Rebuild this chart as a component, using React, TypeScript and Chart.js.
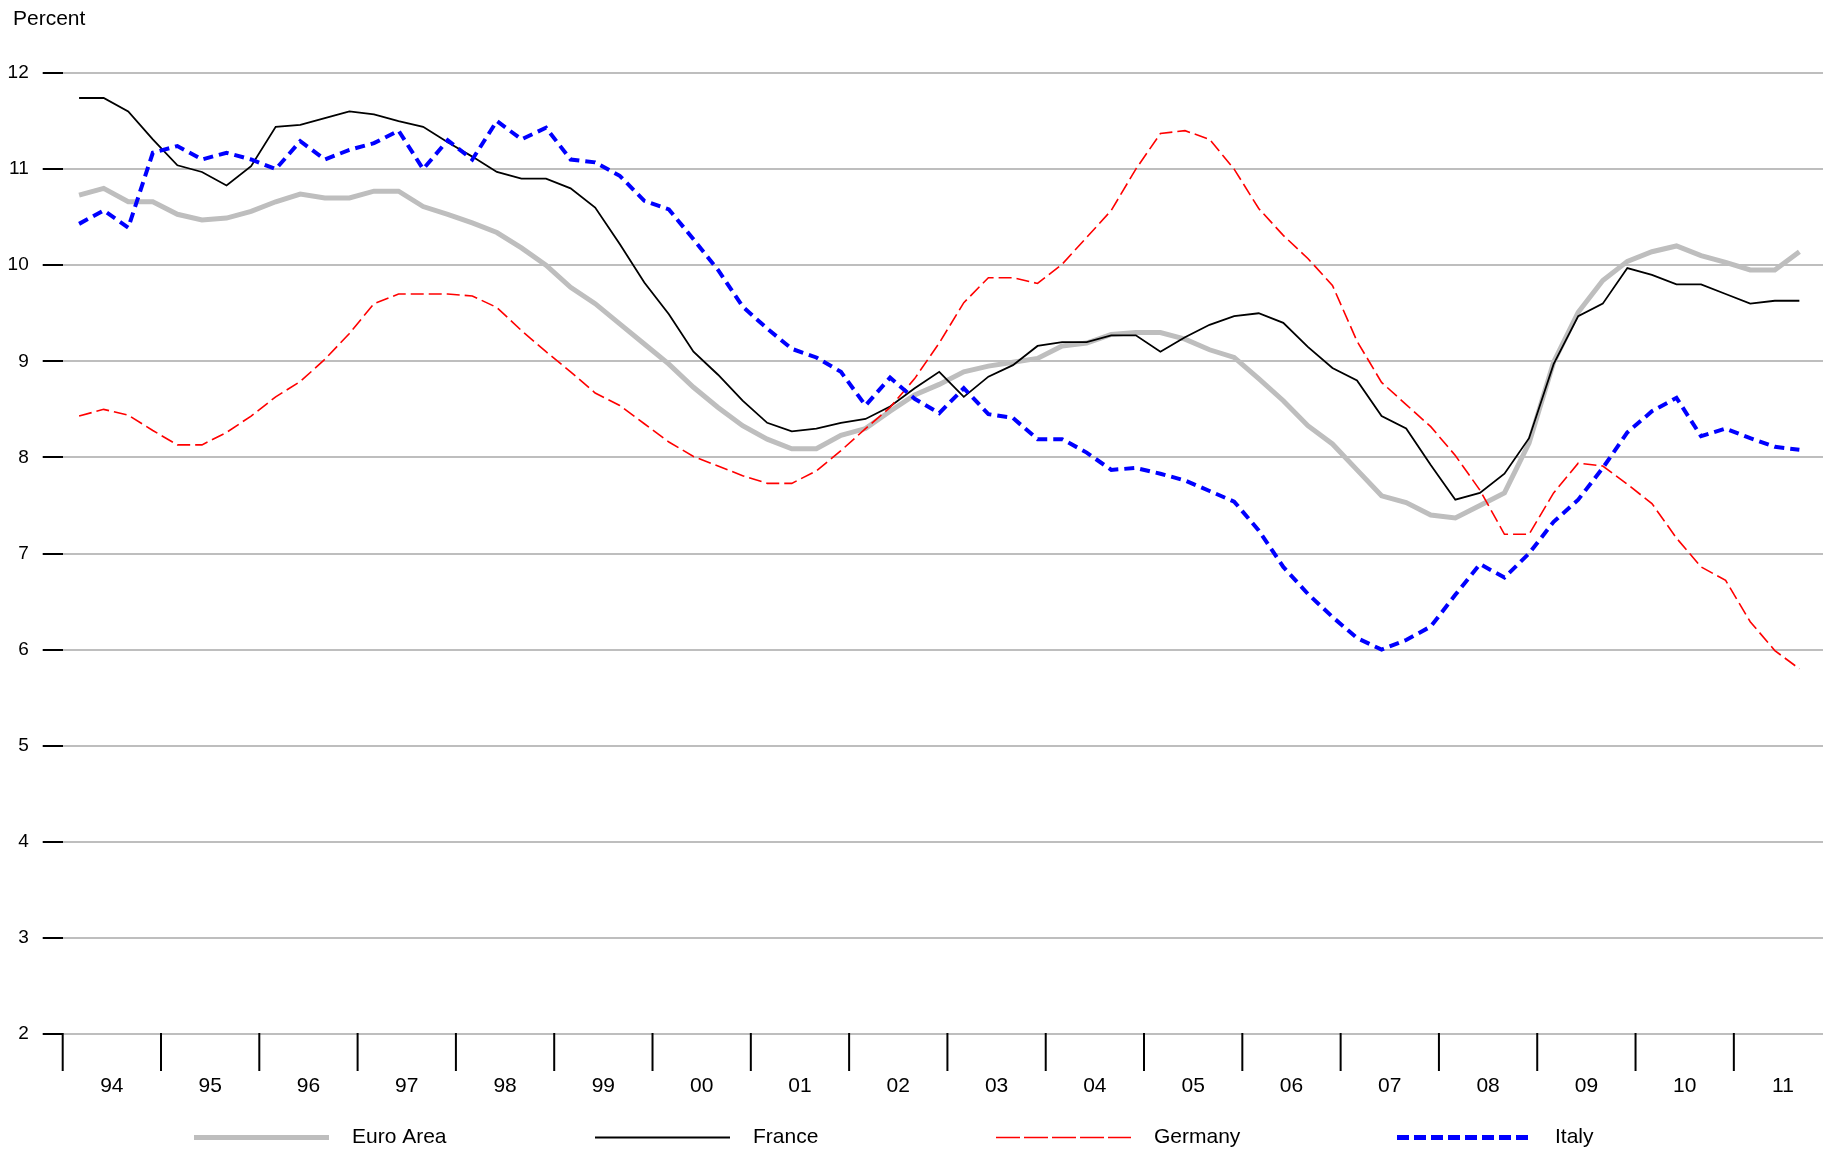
import React, { useEffect, useRef } from 'react';
import { Chart, registerables } from 'chart.js';

Chart.register(...registerables);

// Quarterly observations, 1994Q1 .. 2011Q3
const firstYear = 1994;
const yearLabels = ['94', '95', '96', '97', '98', '99', '00', '01', '02', '03', '04', '05', '06', '07', '08', '09', '10', '11'];

const euroArea = [
  10.73, 10.80, 10.66, 10.66, 10.53, 10.47, 10.49, 10.56, 10.66, 10.74,
  10.70, 10.70, 10.77, 10.77, 10.61, 10.53, 10.44, 10.34, 10.18, 10.00,
  9.77, 9.60, 9.39, 9.18, 8.97, 8.73, 8.52, 8.33, 8.19, 8.09,
  8.09, 8.23, 8.30, 8.48, 8.65, 8.76, 8.89, 8.95, 8.99, 9.03,
  9.16, 9.19, 9.28, 9.30, 9.30, 9.23, 9.12, 9.04, 8.82, 8.59,
  8.33, 8.14, 7.87, 7.60, 7.53, 7.40, 7.37, 7.50, 7.63, 8.15,
  8.99, 9.51, 9.84, 10.04, 10.14, 10.20, 10.10, 10.03, 9.95, 9.95, 10.14,
];

const france = [
  11.74, 11.74, 11.60, 11.31, 11.04, 10.97, 10.83, 11.03, 11.44, 11.46,
  11.53, 11.60, 11.57, 11.50, 11.44, 11.28, 11.13, 10.97, 10.90, 10.90,
  10.80, 10.60, 10.22, 9.82, 9.49, 9.10, 8.86, 8.59, 8.36, 8.27,
  8.30, 8.36, 8.40, 8.53, 8.72, 8.89, 8.63, 8.84, 8.96, 9.16,
  9.20, 9.20, 9.27, 9.27, 9.10, 9.25, 9.38, 9.47, 9.50, 9.40,
  9.15, 8.93, 8.80, 8.43, 8.30, 7.92, 7.56, 7.63, 7.83, 8.20,
  8.97, 9.47, 9.60, 9.97, 9.90, 9.80, 9.80, 9.70, 9.60, 9.63, 9.63,
];

const germany = [
  8.43, 8.50, 8.44, 8.28, 8.13, 8.13, 8.26, 8.43, 8.63, 8.79,
  9.02, 9.29, 9.60, 9.70, 9.70, 9.70, 9.68, 9.56, 9.32, 9.10,
  8.89, 8.67, 8.54, 8.35, 8.16, 8.01, 7.91, 7.81, 7.73, 7.73,
  7.86, 8.07, 8.30, 8.52, 8.82, 9.19, 9.61, 9.87, 9.87, 9.81,
  10.01, 10.29, 10.57, 11.00, 11.37, 11.40, 11.31, 11.00, 10.59, 10.31,
  10.07, 9.79, 9.21, 8.78, 8.55, 8.32, 8.02, 7.66, 7.20, 7.20,
  7.63, 7.94, 7.91, 7.72, 7.52, 7.16, 6.86, 6.72, 6.29, 5.99, 5.80,
];

const italy = [
  10.43, 10.57, 10.39, 11.17, 11.24, 11.10, 11.17, 11.10, 11.00, 11.29,
  11.10, 11.20, 11.27, 11.40, 11.00, 11.30, 11.10, 11.50, 11.31, 11.43,
  11.10, 11.07, 10.93, 10.67, 10.58, 10.27, 9.95, 9.57, 9.34, 9.13,
  9.04, 8.89, 8.54, 8.83, 8.61, 8.46, 8.72, 8.45, 8.41, 8.19,
  8.19, 8.05, 7.87, 7.89, 7.83, 7.76, 7.65, 7.54, 7.24, 6.86,
  6.58, 6.34, 6.12, 6.00, 6.10, 6.24, 6.57, 6.89, 6.75, 7.00,
  7.33, 7.56, 7.89, 8.26, 8.48, 8.62, 8.22, 8.30, 8.20, 8.11, 8.08,
];

const seriesNames = ['Euro Area', 'France', 'Germany', 'Italy'];

// quarter labels "1994Q1" ... one per observation
const quarters: string[] = euroArea.map((_, i) => `${firstYear + Math.floor(i / 4)}Q${(i % 4) + 1}`);

// position of a quarter on the time axis (observation dated two months into the quarter)
const quarterPos = (q: string) => {
  const [y, qq] = q.split('Q');
  return Number(y) + (Number(qq) - 1) / 4 + 1 / 6;
};

const toPoints = (vals: number[]) => vals.map((v, i) => ({ x: quarterPos(quarters[i]), y: v }));

const FONT = '"Liberation Sans", Arial, Helvetica, sans-serif';

const styles = [
  { color: '#bebebe', width: 5, dash: [] as number[], legendDash: [] as number[], order: 4 },
  { color: '#000000', width: 1.8, dash: [] as number[], legendDash: [] as number[], order: 3 },
  { color: '#ff0000', width: 1.6, dash: [13, 5], legendDash: [24, 4], order: 2 },
  { color: '#0000ff', width: 4, dash: [10, 6], legendDash: [12, 5], order: 1 },
];

const overlayPlugin = {
  id: 'overlayPlugin',
  afterDraw(chart: any) {
    const { ctx, chartArea, scales } = chart;
    const xs = scales.x;
    ctx.save();

    // Y-axis title
    ctx.fillStyle = '#000';
    ctx.font = `21px ${FONT}`;
    ctx.textAlign = 'left';
    ctx.textBaseline = 'middle';
    ctx.fillText('Percent', 13, 19);

    // Year boundary ticks and year labels
    ctx.strokeStyle = '#000';
    ctx.lineWidth = 2;
    ctx.setLineDash([]);
    yearLabels.forEach((lab, i) => {
      const yr = firstYear + i;
      const x = xs.getPixelForValue(yr);
      ctx.beginPath();
      ctx.moveTo(x, chartArea.bottom - 1);
      ctx.lineTo(x, chartArea.bottom + 37);
      ctx.stroke();
      const xm = xs.getPixelForValue(yr + 0.5);
      ctx.font = `21px ${FONT}`;
      ctx.textAlign = 'center';
      ctx.textBaseline = 'middle';
      ctx.fillText(lab, xm, chartArea.bottom + 52);
    });

    // Legend in fixed columns
    const legendY = 1137.5;
    const startX = 194;
    const colW = 401;
    const lineLen = 135;
    seriesNames.forEach((name, i) => {
      const st = styles[i];
      const x0 = startX + i * colW;
      ctx.beginPath();
      ctx.strokeStyle = st.color;
      ctx.lineWidth = i === 3 ? 5 : st.width;
      ctx.setLineDash(st.legendDash);
      ctx.moveTo(x0, legendY);
      ctx.lineTo(x0 + lineLen, legendY);
      ctx.stroke();
      ctx.setLineDash([]);
      ctx.fillStyle = '#000';
      ctx.font = `21px ${FONT}`;
      ctx.textAlign = 'left';
      ctx.textBaseline = 'middle';
      ctx.fillText(name, x0 + 158, legendY);
    });

    ctx.restore();
  },
};

export default function App() {
  const canvasRef = useRef<HTMLCanvasElement>(null);

  useEffect(() => {
    const canvas = canvasRef.current;
    if (!canvas) return;
    const allSeries = [euroArea, france, germany, italy];
    const chart = new Chart(canvas, {
      type: 'line',
      data: {
        datasets: allSeries.map((vals, i) => ({
          label: seriesNames[i],
          data: toPoints(vals),
          borderColor: styles[i].color,
          backgroundColor: styles[i].color,
          borderWidth: styles[i].width,
          borderDash: styles[i].dash,
          pointRadius: 0,
          pointHoverRadius: 0,
          fill: false,
          tension: 0,
          order: styles[i].order,
        })),
      },
      options: {
        responsive: false,
        animation: false,
        devicePixelRatio: 1,
        layout: { padding: { top: 73, bottom: 118, left: 0, right: 0 } },
        plugins: {
          legend: { display: false },
          tooltip: { enabled: false },
          title: { display: false },
        },
        scales: {
          x: {
            type: 'linear',
            min: 1994,
            max: 2011.907,
            display: false,
          },
          y: {
            min: 2,
            max: 12,
            ticks: {
              stepSize: 1,
              color: '#000',
              font: { family: FONT, size: 19 },
              padding: 14,
            },
            grid: {
              color: '#bebebe',
              lineWidth: 2,
              tickColor: '#000',
              tickLength: 20,
              tickWidth: 2,
            },
            border: { display: false },
            afterFit: (scale: any) => {
              scale.width = 62.7;
            },
          },
        },
      } as any,
      plugins: [overlayPlugin],
    });
    return () => chart.destroy();
  }, []);

  return (
    <div style={{ position: 'fixed', left: 0, top: 0, width: 1823, height: 1152, background: '#fff' }}>
      <canvas ref={canvasRef} width={1823} height={1152} style={{ display: 'block' }} />
    </div>
  );
}
